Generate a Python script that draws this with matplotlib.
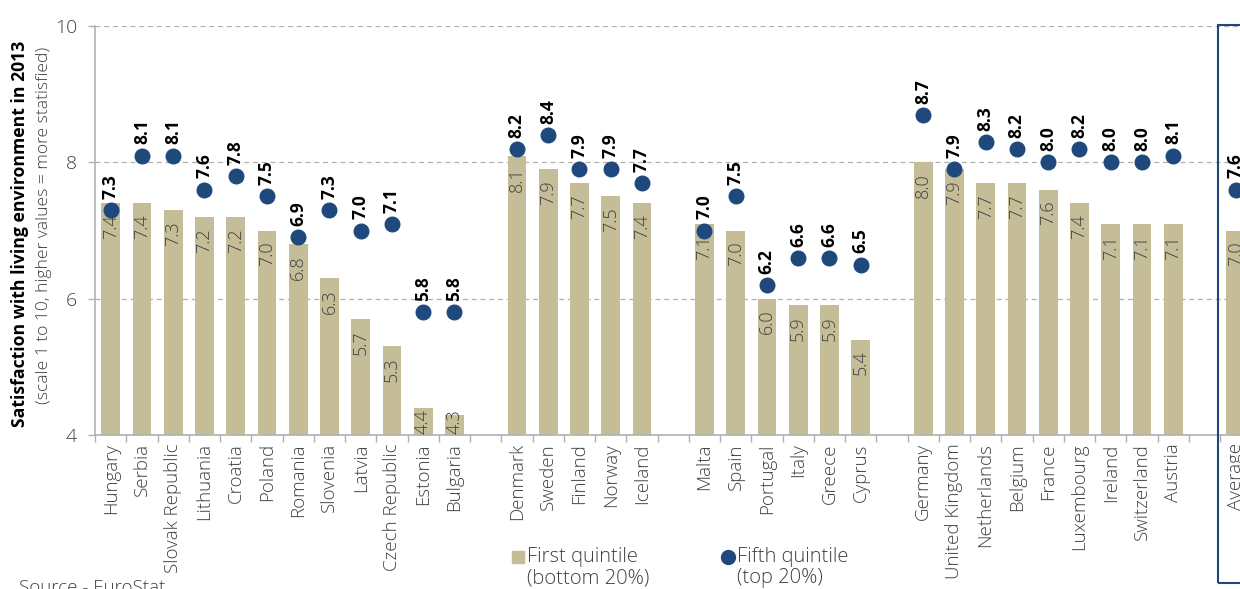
import numpy as np
import matplotlib
matplotlib.use("Agg")
import matplotlib.pyplot as plt
from matplotlib.lines import Line2D
from matplotlib.patches import Rectangle
from matplotlib.ticker import FixedLocator

plt.rcParams['font.family'] = ['Open Sans', 'DejaVu Sans']

categories = ["Hungary", "Serbia", "Slovak Republic", "Lithuania", "Croatia", "Poland",
              "Romania", "Slovenia", "Latvia", "Czech Republic", "Estonia", "Bulgaria", "",
              "Denmark", "Sweden", "Finland", "Norway", "Iceland", "",
              "Malta", "Spain", "Portugal", "Italy", "Greece", "Cyprus", "",
              "Germany", "United Kingdom", "Netherlands", "Belgium", "France", "Luxembourg",
              "Ireland", "Switzerland", "Austria", "",
              "Average"]
first_quintile = [7.4, 7.4, 7.3, 7.2, 7.2, 7.0, 6.8, 6.3, 5.7, 5.3, 4.4, 4.3, None,
                  8.1, 7.9, 7.7, 7.5, 7.4, None,
                  7.1, 7.0, 6.0, 5.9, 5.9, 5.4, None,
                  8.0, 7.9, 7.7, 7.7, 7.6, 7.4, 7.1, 7.1, 7.1, None,
                  7.0]
fifth_quintile = [7.3, 8.1, 8.1, 7.6, 7.8, 7.5, 6.9, 7.3, 7.0, 7.1, 5.8, 5.8, None,
                  8.2, 8.4, 7.9, 7.9, 7.7, None,
                  7.0, 7.5, 6.2, 6.6, 6.6, 6.5, None,
                  8.7, 7.9, 8.3, 8.2, 8.0, 8.2, 8.0, 8.0, 8.1, None,
                  7.6]
y_ticks = [4, 6, 8, 10]

BAR = "#C4BD97"
DOT = "#1F497D"
GRID = "#B0B0B0"
TXT = "#404040"

W, H = 1240, 589
fig = plt.figure(figsize=(W / 100, H / 100), dpi=100)
n = len(categories)
unit = 31.25
ax = fig.add_axes([95 / W, 1 - 435 / H, n * unit / W, (435 - 26) / H])

x = np.arange(n)
fq = np.array([np.nan if v is None else v for v in first_quintile], dtype=float)
sq = np.array([np.nan if v is None else v for v in fifth_quintile], dtype=float)

ymin = y_ticks[0]
ax.set_ylim(ymin, y_ticks[-1])
ax.set_xlim(-0.5, n - 0.5)

for yv in y_ticks[1:]:
    ax.axhline(yv, color=GRID, lw=0.9, ls=(0, (4, 3)), zorder=0)

bars = ax.bar(x, np.nan_to_num(fq, nan=ymin) - ymin, bottom=ymin, width=0.6, color=BAR, zorder=2)
ax.plot(x, sq, 'o', color=DOT, ms=10.5, zorder=3, mec=DOT)

for xi, v in zip(x, fq):
    if np.isnan(v):
        continue
    if v - ymin < 0.6:
        # short bar: label sits on the axis baseline
        t = ax.annotate(f"{v:.1f}", (xi, ymin), xytext=(0, 1), textcoords='offset points',
                        rotation=90, ha='center', va='bottom', fontsize=13, color=TXT,
                        fontweight='light', zorder=4)
    else:
        t = ax.annotate(f"{v:.1f}", (xi, v), xytext=(0, -8), textcoords='offset points',
                        rotation=90, ha='center', va='top', fontsize=13, color=TXT,
                        fontweight='light', zorder=4)
    t.set_clip_box(ax.bbox)
    t.set_clip_on(True)
for xi, v in zip(x, sq):
    if np.isnan(v):
        continue
    ax.annotate(f"{v:.1f}", (xi, v), xytext=(0, 8), textcoords='offset points',
                rotation=90, ha='center', va='bottom', fontsize=12.5, color='black',
                fontweight='bold', zorder=4)

ax.set_xticks(x)
ax.set_xticklabels(categories, rotation=90, fontsize=13.5, color=TXT, fontweight='light')
ax.tick_params(axis='x', which='major', length=0, pad=6)
ax.xaxis.set_minor_locator(FixedLocator(np.arange(-0.5, n, 1.0)))
ax.tick_params(axis='x', which='minor', length=5, color=GRID, width=1)

ax.set_yticks(y_ticks)
ax.set_yticklabels([str(t) for t in y_ticks], fontsize=14, color=TXT, fontweight='light')
ax.tick_params(axis='y', length=5, color=GRID, width=1, pad=8)

for s in ['top', 'right']:
    ax.spines[s].set_visible(False)
for s in ['left', 'bottom']:
    ax.spines[s].set_color(GRID)
    ax.spines[s].set_linewidth(1.2)

# Y axis titles
fig.text(20 / W, 1 - 234 / H, "Satisfaction with living environment in 2013", rotation=90,
         ha='center', va='center', fontsize=12.7, fontweight='bold', color='black')
fig.text(44 / W, 1 - 225 / H, "(scale 1 to 10, higher values = more statisfied)", rotation=90,
         ha='center', va='center', fontsize=12.6, color=TXT, fontweight='light')

# Average box
fig.add_artist(Rectangle((1218 / W, 1 - 583 / H), 60 / W, (583 - 25) / H,
                         transform=fig.transFigure, fill=False, ec=DOT, lw=1.5, clip_on=False))

# Legend
LFS = 14.5
fig.add_artist(Line2D([518 / W], [1 - 557 / H], marker='s', ms=8, color=BAR, ls='none',
                      transform=fig.transFigure))
fig.text(527 / W, 1 - 557 / H, "First quintile", ha='left', va='center', fontsize=LFS, color=TXT,
         fontweight='light')
fig.text(527 / W, 1 - 578 / H, "(bottom 20%)", ha='left', va='center', fontsize=LFS, color=TXT,
         fontweight='light')
fig.add_artist(Line2D([728 / W], [1 - 557 / H], marker='o', ms=10, color=DOT, ls='none',
                      transform=fig.transFigure))
fig.text(737 / W, 1 - 557 / H, "Fifth quintile", ha='left', va='center', fontsize=LFS, color=TXT,
         fontweight='light')
fig.text(737 / W, 1 - 578 / H, "(top 20%)", ha='left', va='center', fontsize=LFS, color=TXT,
         fontweight='light')

fig.text(19 / W, 1 - 579 / H, "Source - EuroStat", ha='left', va='top', fontsize=13.5, color=TXT,
         fontweight='light')

fig.savefig("out.png", dpi=100)
